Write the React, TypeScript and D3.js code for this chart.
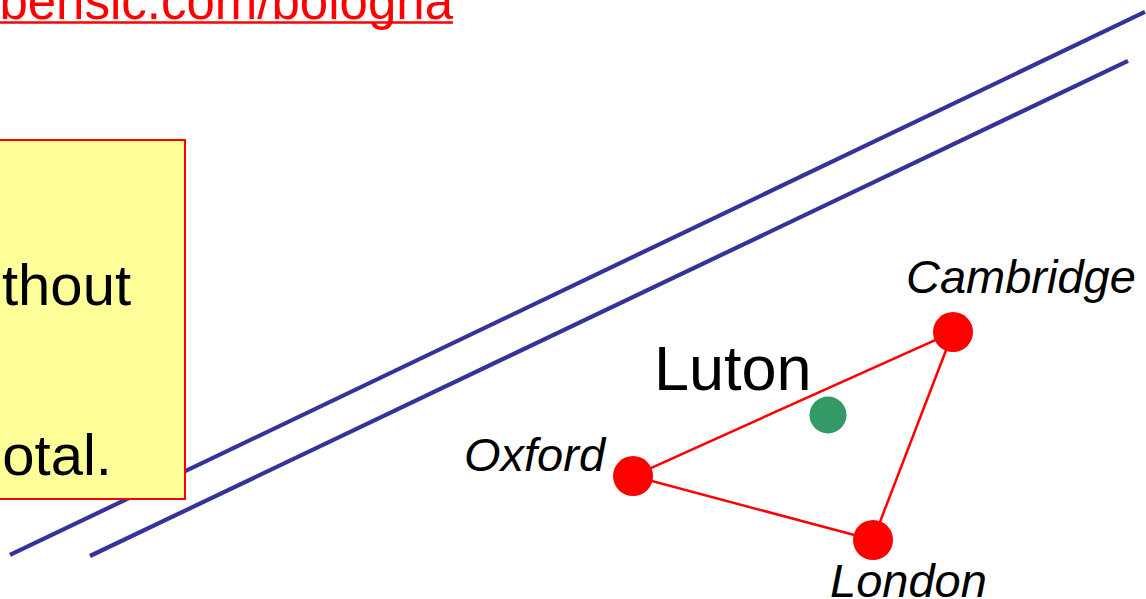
import React from "react";
import * as d3 from "d3";

// Data (abstract map units 0..100)
const cityNames = ["Oxford", "Cambridge", "London"];
const cityX = [55.24, 83.16, 76.18];
const cityY = [20.53, 44.57, 9.85];
const labelDx = [-28, -47, -43];
const labelDy = [-5, -39, 57];
const labelAnchor = ["end", "start", "start"];

const lutonName = "Luton";
const lutonX = 72.25;
const lutonY = 30.72;

// parallel boundary lines
const lineStartX = [0.87, 7.85];
const lineStartY = [7.35, 7.18];
const lineEndX = [99.91, 98.43];
const lineEndY = [98.0, 89.82];

const urlText = "bensic.com/bologna";
const boxLines = ["thout", "", "otal."];
const boxLineEnd = [131, 131, 112];

const W = 1146;
const H = 599;

export default function App() {
  const x = d3.scaleLinear().domain([0, 100]).range([0, W]);
  const y = d3.scaleLinear().domain([0, 100]).range([H, 0]);
  const font = "'Liberation Sans', Arial, sans-serif";

  const tri = d3.line<number>()
    .x((i) => x(cityX[i]))
    .y((i) => y(cityY[i]))
    .curve(d3.curveLinearClosed);

  return (
    <svg
      width={W}
      height={H}
      style={{ position: "fixed", left: 0, top: 0, background: "#fff" }}
    >
      <rect x={0} y={0} width={W} height={H} fill="#fff" />
      {/* URL */}
      <text
        x={453}
        y={19}
        textAnchor="end"
        fontFamily={font}
        fontSize={51}
        fill="#ff0000"
      >
        {urlText}
      </text>
      <line x1={0} x2={453} y1={22.5} y2={22.5} stroke="#ff0000" strokeWidth={2.5} />

      {/* boundary lines */}
      {lineStartX.map((_, i) => (
        <line
          key={i}
          x1={x(lineStartX[i])}
          y1={y(lineStartY[i])}
          x2={x(lineEndX[i])}
          y2={y(lineEndY[i])}
          stroke="#333399"
          strokeWidth={4.2}
        />
      ))}

      {/* yellow box */}
      <rect x={-10} y={140} width={195} height={359} fill="#ffff99" stroke="#ff0000" strokeWidth={2} />
      {boxLines.map((t, i) => (
        <text
          key={i}
          x={boxLineEnd[i]}
          y={305 + i * 85}
          textAnchor="end"
          fontFamily={font}
          fontSize={58}
          fill="#000"
        >
          {t}
        </text>
      ))}

      {/* triangle */}
      <path d={tri([0, 1, 2]) || ""} fill="none" stroke="#ff0000" strokeWidth={2.5} />
      {cityNames.map((n, i) => (
        <g key={n}>
          <circle cx={x(cityX[i])} cy={y(cityY[i])} r={20} fill="#ff0000" />
          <text
            x={x(cityX[i]) + labelDx[i]}
            y={y(cityY[i]) + labelDy[i]}
            textAnchor={labelAnchor[i] as any}
            fontFamily={font}
            fontStyle="italic"
            fontSize={47}
            fill="#000"
          >
            {n}
          </text>
        </g>
      ))}

      {/* Luton */}
      <circle cx={x(lutonX)} cy={y(lutonY)} r={18.5} fill="#339966" />
      <text
        x={x(lutonX) - 174}
        y={y(lutonY) - 25}
        fontFamily={font}
        fontSize={63}
        fill="#000"
      >
        {lutonName}
      </text>
    </svg>
  );
}
